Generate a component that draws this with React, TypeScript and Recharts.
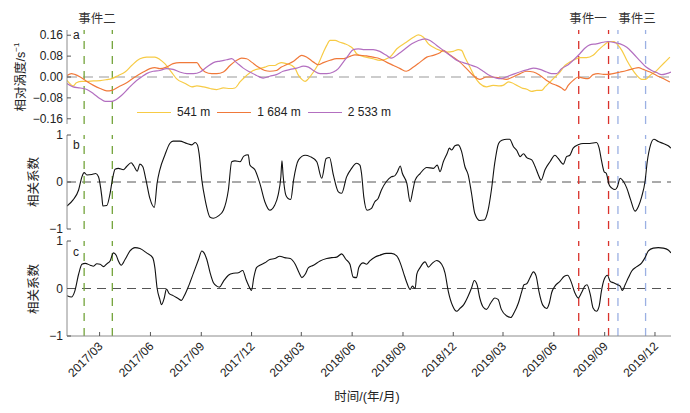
import React from "react";
import { LineChart, Line, XAxis, YAxis, ReferenceLine, Legend } from "recharts";

// x is days since 2017-01-01
const START = Date.UTC(2017, 0, 1);
const X_END = 1093;

const tickLabels = [
  "2017/03", "2017/06", "2017/09", "2017/12", "2018/03", "2018/06",
  "2018/09", "2018/12", "2019/03", "2019/06", "2019/09", "2019/12",
];
const dayOf = (label: string) => {
  const [y, m] = label.split("/").map(Number);
  return Math.round((Date.UTC(y, m - 1, 1) - START) / 86400000);
};
const xTicks = tickLabels.map(dayOf);

// event dates (day index)
const eventGreen = [31, 82]; // 事件二
const eventRed = [926, 980]; // 事件一
const eventBlue = [997, 1047]; // 事件三

const seriesNames = ["541 m", "1 684 m", "2 533 m"];

// panel a: relative vorticity
const days541 = [0, 5, 11, 17, 27, 36, 48, 60, 72, 81, 93, 105, 117, 132, 144, 159, 168, 177, 189, 198, 214, 226, 235, 247, 259, 271, 283, 295, 304, 313, 325, 337, 349, 358, 367, 376, 382, 388, 397, 407, 413, 419, 425, 431, 437, 446, 455, 464, 470, 476, 485, 494, 503, 512, 518, 524, 530, 554, 566, 584, 597, 614, 627, 636, 645, 654, 663, 675, 687, 699, 708, 714, 720, 726, 732, 738, 747, 759, 771, 783, 789, 799, 805, 814, 823, 832, 841, 850, 859, 865, 874, 883, 892, 901, 910, 919, 928, 940, 952, 961, 971, 977, 983, 990, 995, 1004, 1013, 1022, 1031, 1040, 1047, 1055, 1064, 1073, 1082, 1091];
const vort541 = [-0.013, -0.025, -0.034, -0.022, -0.017, -0.017, -0.015, -0.014, -0.01, -0.006, 0.006, 0.019, 0.044, 0.07, 0.076, 0.076, 0.067, 0.051, 0.019, -0.006, -0.025, -0.038, -0.034, -0.038, -0.044, -0.048, -0.042, -0.044, -0.042, -0.019, 0.006, 0.025, 0.032, 0.038, 0.044, 0.044, 0.051, 0.055, 0.051, 0.044, 0.032, 0.006, -0.009, -0.017, -0.006, 0.019, 0.051, 0.095, 0.121, 0.14, 0.14, 0.133, 0.127, 0.118, 0.108, 0.089, 0.083, 0.07, 0.064, 0.076, 0.108, 0.133, 0.152, 0.161, 0.152, 0.127, 0.114, 0.102, 0.095, 0.098, 0.105, 0.102, 0.076, 0.051, 0.025, 0, -0.025, -0.038, -0.032, -0.034, -0.032, -0.019, -0.022, -0.032, -0.042, -0.047, -0.055, -0.051, -0.051, -0.038, -0.019, 0, 0.019, 0.044, 0.057, 0.067, 0.074, 0.074, 0.083, 0.102, 0.121, 0.131, 0.136, 0.136, 0.127, 0.102, 0.064, 0.032, 0.006, -0.009, -0.009, 0.006, 0.019, 0.038, 0.057, 0.076];

const days1684 = [0, 8, 14, 24, 36, 48, 60, 72, 81, 93, 108, 123, 138, 150, 159, 168, 180, 192, 204, 223, 235, 241, 250, 262, 271, 283, 295, 307, 316, 325, 334, 346, 358, 367, 379, 388, 397, 410, 419, 425, 434, 446, 455, 464, 476, 488, 500, 512, 521, 530, 542, 554, 566, 578, 591, 603, 614, 627, 639, 651, 663, 675, 681, 690, 699, 711, 723, 735, 747, 759, 771, 783, 795, 807, 820, 832, 844, 856, 868, 877, 886, 895, 901, 907, 916, 925, 934, 943, 952, 961, 971, 979, 988, 1001, 1013, 1025, 1034, 1043, 1055, 1067, 1079, 1091];
const vort1684 = [0.006, 0.013, 0.01, 0, -0.017, -0.032, -0.044, -0.053, -0.051, -0.038, -0.022, 0, 0.019, 0.032, 0.036, 0.032, 0.038, 0.051, 0.055, 0.055, 0.055, 0.038, 0.019, 0.013, 0.013, 0.019, 0.044, 0.064, 0.072, 0.07, 0.057, 0.038, 0.025, 0.022, 0.025, 0.038, 0.047, 0.06, 0.076, 0.083, 0.076, 0.057, 0.047, 0.055, 0.064, 0.07, 0.07, 0.079, 0.085, 0.083, 0.081, 0.076, 0.07, 0.057, 0.044, 0.032, 0.022, 0.038, 0.057, 0.076, 0.083, 0.093, 0.102, 0.089, 0.076, 0.057, 0.032, 0.006, -0.009, 0, 0, -0.004, -0.009, 0, 0.013, 0.022, 0.019, 0.006, -0.013, -0.025, -0.032, -0.042, -0.051, -0.032, -0.013, 0, -0.004, -0.006, 0.009, 0.013, 0.01, 0.01, 0.013, 0.019, 0.025, 0.032, 0.036, 0.029, 0.019, 0.006, -0.006, -0.019];

const days2533 = [0, 11, 24, 36, 48, 60, 69, 81, 90, 99, 111, 123, 135, 144, 156, 168, 180, 192, 204, 217, 229, 241, 253, 265, 277, 289, 298, 307, 319, 331, 343, 355, 367, 379, 391, 404, 416, 428, 437, 446, 458, 470, 482, 491, 500, 509, 518, 527, 536, 542, 554, 566, 578, 587, 600, 612, 624, 636, 648, 657, 669, 681, 693, 705, 717, 729, 741, 753, 765, 777, 786, 799, 811, 823, 835, 844, 856, 868, 877, 886, 895, 907, 919, 928, 937, 946, 958, 970, 979, 988, 1001, 1013, 1025, 1036, 1048, 1058, 1067, 1076, 1085, 1093];
const vort2533 = [-0.025, -0.038, -0.042, -0.048, -0.064, -0.083, -0.093, -0.093, -0.085, -0.07, -0.044, -0.019, 0, 0.013, 0.022, 0.025, 0.032, 0.029, 0.019, 0.013, 0.013, 0.019, 0.038, 0.055, 0.061, 0.066, 0.07, 0.055, 0.034, 0.019, 0.006, -0.004, 0.003, 0.009, 0.022, 0.029, 0.034, 0.042, 0.038, 0.025, 0.013, 0.013, 0.019, 0.032, 0.057, 0.083, 0.105, 0.108, 0.105, 0.105, 0.105, 0.098, 0.083, 0.072, 0.089, 0.108, 0.127, 0.14, 0.146, 0.14, 0.121, 0.102, 0.083, 0.064, 0.055, 0.047, 0.038, 0.022, 0.006, -0.004, -0.006, 0.004, 0.013, 0.022, 0.029, 0.034, 0.029, 0.019, 0.013, 0.013, 0.032, 0.047, 0.07, 0.089, 0.11, 0.123, 0.127, 0.133, 0.136, 0.133, 0.127, 0.114, 0.089, 0.064, 0.038, 0.025, 0.017, 0.009, 0.013, 0.019];

// panel b: correlation coefficient
const daysB = [0, 11, 21, 27, 31, 36, 45, 52, 57, 63, 65, 72, 78, 82, 87, 93, 102, 108, 116, 121, 127, 132, 137, 143, 150, 158, 163, 168, 177, 186, 192, 204, 217, 226, 232, 236, 239, 244, 250, 259, 265, 274, 283, 292, 298, 304, 313, 320, 328, 331, 340, 349, 358, 367, 376, 382, 387, 389, 391, 396, 400, 405, 410, 419, 431, 440, 452, 461, 469, 475, 482, 491, 497, 506, 515, 524, 530, 533, 537, 543, 551, 557, 563, 569, 578, 587, 593, 598, 603, 607, 615, 621, 626, 630, 639, 651, 663, 670, 675, 681, 688, 692, 696, 702, 708, 714, 720, 726, 732, 738, 747, 755, 762, 768, 774, 781, 787, 796, 801, 808, 814, 820, 826, 832, 841, 847, 853, 858, 865, 874, 883, 889, 898, 904, 910, 916, 925, 934, 946, 958, 963, 967, 972, 976, 981, 986, 992, 996, 1001, 1007, 1013, 1020, 1028, 1034, 1040, 1046, 1050, 1056, 1062, 1070, 1079, 1088, 1093];
const corrB = [-0.51, -0.38, -0.17, 0.11, 0.2, 0.15, 0.16, 0.18, 0.11, -0.31, -0.51, -0.5, -0.24, 0.04, 0.27, 0.29, 0.26, 0.33, 0.41, 0.34, 0.23, 0.38, 0.33, 0.04, -0.35, -0.54, -0.03, 0.26, 0.57, 0.82, 0.87, 0.87, 0.82, 0.79, 0.84, 0.79, 0.61, 0.04, -0.38, -0.75, -0.77, -0.72, -0.6, -0.17, 0.43, 0.45, 0.43, 0.55, 0.58, 0.36, 0.26, -0.03, -0.42, -0.6, -0.49, -0.28, 0.11, 0.45, 0.15, -0.28, -0.35, -0.37, 0.04, 0.47, 0.57, 0.54, 0.43, 0.08, 0.5, 0.52, 0.15, -0.21, -0.24, 0.11, 0.29, 0.4, 0.36, 0.18, -0.31, -0.6, -0.56, -0.42, -0.35, -0.17, 0.01, 0.11, 0.13, 0.22, 0.34, 0.18, -0.03, -0.42, -0.17, 0.04, 0.18, 0.31, 0.29, 0.36, 0.22, 0.43, 0.61, 0.72, 0.68, 0.77, 0.79, 0.65, 0.33, 0.15, -0.24, -0.67, -0.82, -0.81, -0.6, -0.17, 0.4, 0.82, 0.89, 0.91, 0.91, 0.75, 0.67, 0.54, 0.6, 0.52, 0.47, 0.33, 0.15, 0.04, 0.26, 0.43, 0.57, 0.5, 0.38, 0.54, 0.57, 0.72, 0.79, 0.82, 0.82, 0.84, 0.72, 0.47, 0.22, 0.18, -0.06, -0.13, -0.16, -0.1, 0.08, 0.01, -0.13, -0.38, -0.62, -0.52, -0.31, 0.01, 0.43, 0.79, 0.91, 0.86, 0.82, 0.77, 0.72];

// panel c: correlation coefficient
const daysC = [0, 8, 14, 21, 27, 33, 42, 48, 54, 60, 66, 72, 78, 84, 89, 93, 98, 105, 114, 123, 132, 144, 155, 159, 163, 168, 171, 176, 180, 185, 192, 201, 207, 212, 220, 229, 238, 244, 248, 253, 259, 265, 271, 276, 283, 292, 301, 310, 318, 324, 328, 334, 338, 343, 349, 358, 367, 376, 385, 394, 404, 413, 420, 425, 431, 437, 446, 458, 470, 479, 488, 497, 505, 512, 518, 524, 528, 536, 542, 548, 557, 566, 578, 587, 597, 603, 609, 615, 621, 625, 630, 633, 639, 648, 654, 660, 669, 678, 684, 690, 698, 705, 711, 718, 726, 732, 737, 742, 747, 753, 759, 767, 774, 780, 786, 796, 803, 809, 817, 823, 827, 832, 838, 844, 849, 854, 861, 868, 873, 877, 883, 892, 900, 906, 912, 919, 925, 931, 937, 941, 947, 952, 958, 963, 967, 972, 978, 983, 989, 996, 1001, 1005, 1010, 1016, 1022, 1031, 1040, 1046, 1052, 1061, 1070, 1079, 1088, 1093];
const corrC = [-0.15, -0.18, -0.06, 0.3, 0.51, 0.53, 0.49, 0.47, 0.52, 0.51, 0.46, 0.52, 0.58, 0.75, 0.7, 0.58, 0.49, 0.61, 0.79, 0.86, 0.84, 0.75, 0.65, 0.44, 0.01, -0.23, -0.34, -0.2, -0.01, -0.11, -0.15, -0.21, -0.25, -0.16, 0.05, 0.33, 0.61, 0.79, 0.75, 0.61, 0.33, 0.12, 0.05, 0.03, 0.15, 0.28, 0.32, 0.33, 0.38, 0.19, 0.08, -0.04, 0.23, 0.44, 0.49, 0.54, 0.61, 0.63, 0.68, 0.65, 0.63, 0.51, 0.33, 0.23, 0.3, 0.44, 0.49, 0.58, 0.63, 0.65, 0.66, 0.73, 0.61, 0.51, 0.24, 0.23, 0.44, 0.54, 0.51, 0.58, 0.66, 0.7, 0.74, 0.74, 0.68, 0.54, 0.33, 0.12, -0.02, 0.05, 0, 0.3, 0.44, 0.56, 0.45, 0.52, 0.59, 0.51, 0.33, -0.06, -0.37, -0.48, -0.42, -0.34, -0.16, 0.01, 0.17, 0.08, -0.2, -0.39, -0.44, -0.3, -0.2, -0.23, -0.44, -0.58, -0.61, -0.51, -0.3, -0.06, 0.08, 0.1, 0.23, 0.35, 0.26, -0.06, -0.35, -0.42, -0.3, -0.09, 0.05, 0.15, 0.26, 0.28, 0.15, -0.09, -0.2, -0.09, 0.05, 0.08, -0.13, -0.41, -0.48, -0.37, -0.06, 0.19, 0.28, 0.15, 0.12, 0.08, 0.05, -0.04, 0.08, 0.23, 0.37, 0.46, 0.54, 0.65, 0.79, 0.85, 0.86, 0.85, 0.81, 0.75];

const vortTicks = [-0.16, -0.08, 0, 0.08, 0.16];
const corrTicks = [-1, 0, 1];

const toRows = (days: number[], vals: number[]) => days.map((d, i) => ({ day: d, v: vals[i] }));

const FONT = "'Liberation Sans', Arial, 'Noto Sans CJK SC', sans-serif";
const AXIS = "#8c8c8c";
const TEXT = "#222";

const minus = (s: string) => s.replace("-", "\u2212");

const DateTick = ({ x, y, payload }: any) => {
  const label = tickLabels[xTicks.indexOf(payload.value)] ?? "";
  return (
    <text x={x + 4} y={y} transform={`rotate(-45, ${x + 4}, ${y})`} textAnchor="end" fontSize={12} fill={TEXT}>
      {label}
    </text>
  );
};

function frame(domain: number[], ticks: number[], fmt: (v: number) => string, showDates: boolean) {
  return [
    <XAxis key="xb" dataKey="day" type="number" domain={[0, X_END]} allowDataOverflow ticks={xTicks} interval={0}
      stroke={AXIS} tickLine={{ stroke: "#555" }} tickSize={-4} tickMargin={15}
      tick={showDates ? <DateTick /> : false} height={showDates ? 70 : 0} />,
    <XAxis key="xt" xAxisId="top" orientation="top" dataKey="day" type="number" domain={[0, X_END]} allowDataOverflow
      ticks={xTicks} interval={0} stroke={AXIS} tickLine={{ stroke: "#555" }} tickSize={-4} tick={false} height={0} />,
    <YAxis key="yl" type="number" domain={domain} allowDataOverflow ticks={ticks} interval={0} width={67}
      stroke={AXIS} tickLine={{ stroke: "#555" }} tickSize={-4} tickMargin={8}
      tick={{ fontSize: 12, fill: TEXT }} tickFormatter={fmt} />,
    <YAxis key="yr" yAxisId="right" orientation="right" type="number" domain={domain} allowDataOverflow ticks={ticks}
      interval={0} width={0} stroke={AXIS} tickLine={{ stroke: "#555" }} tickSize={-4} tick={false} />,
  ];
}

function events() {
  const groups: [number[], string][] = [
    [eventGreen, "#73a33a"],
    [eventRed, "#d9312b"],
    [eventBlue, "#9bb0e3"],
  ];
  return groups.flatMap(([days, color]) =>
    days.map((d) => (
      <ReferenceLine key={`${color}-${d}`} x={d} stroke={color} strokeWidth={1.3} strokeDasharray="8 7" />
    ))
  );
}

const vortFmt = (v: number) => minus(v.toFixed(2));
const corrFmt = (v: number) => minus(String(v));

const renderLegend = ({ payload }: any) => {
  const items = [...(payload || [])].sort(
    (a: any, b: any) => seriesNames.indexOf(a.value) - seriesNames.indexOf(b.value)
  );
  return (
    <div style={{ display: "flex", alignItems: "center", fontSize: 12, color: TEXT, whiteSpace: "nowrap" }}>
      {items.map((e: any) => (
        <span key={e.value} style={{ display: "flex", alignItems: "center", marginRight: 7 }}>
          <span style={{ display: "inline-block", width: 34, borderTop: `1.2px solid ${e.color}`, marginRight: 6 }} />
          {e.value}
        </span>
      ))}
    </div>
  );
};

export default function App() {
  return (
    <div style={{ position: "absolute", left: 0, top: 0, width: 690, height: 413, background: "#fff", fontFamily: FONT }}>
      <div style={{ position: "absolute", left: 0, top: 0 }}>
        <LineChart width={690} height={130} margin={{ top: 30, right: 19, bottom: 6, left: 0 }}>
          {frame([-0.18, 0.18], vortTicks, vortFmt, false)}
          <ReferenceLine y={0} stroke="#9a9a9a" strokeWidth={1.2} strokeDasharray="10 6" />
          {events()}
          <Line data={toRows(days541, vort541)} dataKey="v" name={seriesNames[0]} type="monotone" stroke="#f7cb45"
            strokeWidth={1.2} dot={false} isAnimationActive={false} />
          <Line data={toRows(days1684, vort1684)} dataKey="v" name={seriesNames[1]} type="monotone" stroke="#f0793a"
            strokeWidth={1.2} dot={false} isAnimationActive={false} />
          <Line data={toRows(days2533, vort2533)} dataKey="v" name={seriesNames[2]} type="monotone" stroke="#b36fc0"
            strokeWidth={1.2} dot={false} isAnimationActive={false} />
          <Legend layout="horizontal" verticalAlign="middle" align="center"
            wrapperStyle={{ left: 137, top: 105, width: 320, height: 16 }}
            content={renderLegend}
          />
        </LineChart>
      </div>
      <div style={{ position: "absolute", left: 0, top: 120 }}>
        <LineChart width={690} height={115} margin={{ top: 15, right: 19, bottom: 6, left: 0 }}>
          {frame([-1, 1], corrTicks, corrFmt, false)}
          <ReferenceLine y={0} stroke="#555" strokeWidth={1} strokeDasharray="9 6" />
          {events()}
          <Line data={toRows(daysB, corrB)} dataKey="v" type="monotone" stroke="#111" strokeWidth={1.1}
            dot={false} isAnimationActive={false} />
        </LineChart>
      </div>
      <div style={{ position: "absolute", left: 0, top: 228 }}>
        <LineChart width={690} height={185} margin={{ top: 13, right: 19, bottom: 7, left: 0 }}>
          {frame([-1, 1], corrTicks, corrFmt, true)}
          <ReferenceLine y={0} stroke="#555" strokeWidth={1} strokeDasharray="9 6" />
          {events()}
          <Line data={toRows(daysC, corrC)} dataKey="v" type="monotone" stroke="#111" strokeWidth={1.1}
            dot={false} isAnimationActive={false} />
        </LineChart>
      </div>
      <svg width={690} height={413} style={{ position: "absolute", left: 0, top: 0, pointerEvents: "none" }}
        fontFamily={FONT} fill={TEXT}>
        <text x={97} y={19} fontSize={12.5} textAnchor="middle" dominantBaseline="central" fill="#333">事件二</text>
        <text x={588} y={19} fontSize={12.5} textAnchor="middle" dominantBaseline="central" fill="#333">事件一</text>
        <text x={637} y={19} fontSize={12.5} textAnchor="middle" dominantBaseline="central" fill="#333">事件三</text>
        <text x={73} y={39} fontSize={12}>a</text>
        <text x={73} y={149} fontSize={12}>b</text>
        <text x={73} y={256} fontSize={12}>c</text>
        <text transform="translate(21,77) rotate(-90)" fontSize={12.5} textAnchor="middle" dominantBaseline="central">
          相对涡度/s<tspan fontSize={8} dy={-5}>−1</tspan>
        </text>
        <text transform="translate(34,182) rotate(-90)" fontSize={12.5} textAnchor="middle" dominantBaseline="central">相关系数</text>
        <text transform="translate(34,289) rotate(-90)" fontSize={12.5} textAnchor="middle" dominantBaseline="central">相关系数</text>
        <text x={367} y={401} fontSize={12.5} textAnchor="middle">时间/(年/月)</text>
      </svg>
    </div>
  );
}
